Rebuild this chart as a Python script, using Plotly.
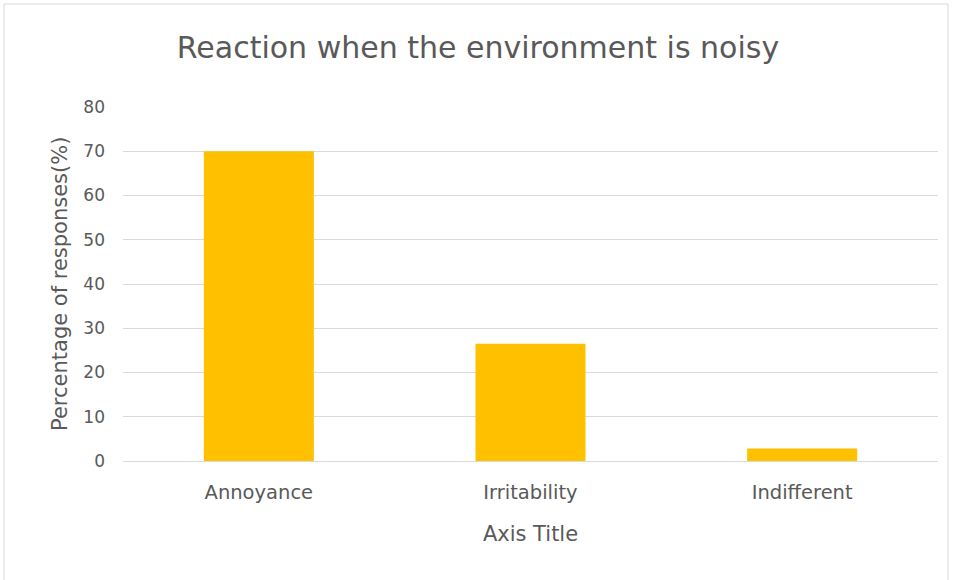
import plotly.graph_objects as go

categories = ["Annoyance", "Irritability", "Indifferent"]
values = [70, 26.5, 2.8]
y_ticks = [0, 10, 20, 30, 40, 50, 60, 70, 80]

L, R, T, B = 123, 18, 107, 119
W, H = 956, 580
pw, ph = W - L - R, H - T - B

fig = go.Figure(go.Bar(x=categories, y=values, marker=dict(color="#FFC000", line=dict(width=0)),
                       width=0.405))

font_fam = "DejaVu Sans, sans-serif"
fig.update_layout(
    width=W, height=H,
    margin=dict(l=L, r=R, t=T, b=B),
    paper_bgcolor="white", plot_bgcolor="white",
    showlegend=False,
    font=dict(family=font_fam, color="#595959", size=16),
    title=dict(text="Reaction when the environment is noisy", x=0.5, xanchor="center",
               y=1 - 47 / H, yanchor="middle", font=dict(size=30, color="#595959")),
    xaxis=dict(showgrid=False, showline=False, ticks="", ticklabelstandoff=17,
               tickfont=dict(size=19.5),
               title=dict(text="Axis Title", font=dict(size=21), standoff=23)),
    yaxis=dict(range=[0, 80], tickvals=y_ticks, showgrid=True, gridcolor="#d9d9d9", gridwidth=1,
               zeroline=True, zerolinecolor="#d9d9d9", zerolinewidth=1, showline=False,
               ticks="", ticklabelstandoff=17, tickfont=dict(size=17)),
    annotations=[dict(text="Percentage of responses(%)", xref="paper", yref="paper",
                      x=(60 - L) / pw, y=0.5, xanchor="center", yanchor="middle",
                      textangle=-90, showarrow=False, font=dict(size=21, color="#595959"))],
    shapes=[dict(type="rect", xref="paper", yref="paper",
                 x0=(4 - L) / pw, x1=(948 - L) / pw, y0=-(590 - (H - B)) / ph,
                 y1=((H - B) - 4) / ph, line=dict(color="#d9d9d9", width=1), layer="below")],
)

fig.write_html("out.html")
